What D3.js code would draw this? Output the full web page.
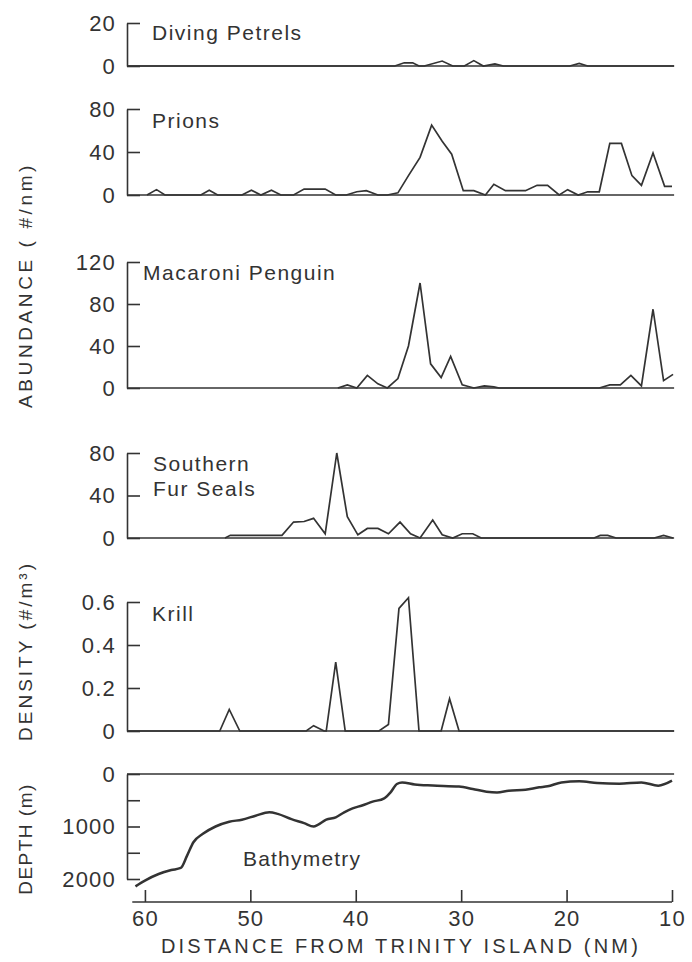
<!DOCTYPE html>
<html>
<head>
<meta charset="utf-8">
<script src="https://cdn.jsdelivr.net/npm/d3@7"></script>
<style>
    body { margin: 0; background: #fff; }
    svg text { font-family: "Liberation Sans", Arial, sans-serif; fill: #333; }
</style>
</head>
<body>
<svg id="chart" width="692" height="962"></svg>
<script>
// distance (nm) and value pairs
const petrelDist = [61.7, 36.3, 35.4, 34.6, 34.0, 33.5, 31.8, 30.8, 29.7, 28.8, 27.9, 26.8, 26.0, 19.7, 18.8, 18.0, 9.8];
const petrelVals = [0, 0, 1.5, 1.5, 0, 0, 2.3, 0, 0, 2.5, 0, 1, 0, 0, 1.2, 0, 0];

const prionDist = [59.8, 58.9, 58.1, 54.7, 53.9, 53.1, 50.8, 49.9, 49.0, 48.0, 47.1, 45.9, 44.9, 42.9, 41.9, 40.9, 39.9, 39.0, 37.9, 37.0, 36.0, 35.0, 33.9, 32.8, 31.8, 30.9, 29.8, 28.8, 27.7, 26.9, 25.8, 23.9, 22.8, 21.8, 20.7, 19.9, 18.9, 18.0, 16.9, 15.9, 14.8, 13.8, 12.9, 11.8, 10.7, 10.0];
const prionVals = [0, 5, 0, 0, 4.5, 0, 0, 4.5, 0, 4.5, 0, 0, 5.5, 5.5, 0, 0, 3, 4, 0, 0, 2, 18, 35, 65, 50, 38, 4, 4, 0, 10, 4, 4, 9, 9, 0, 5, 0, 3, 3, 48, 48, 18, 9, 39, 8, 8];

const penguinDist = [41.7, 40.8, 39.9, 38.9, 37.9, 37.0, 36.0, 35.0, 33.9, 32.9, 31.9, 31.0, 29.9, 28.8, 27.8, 26.9, 26.4, 16.9, 15.9, 14.9, 13.9, 12.9, 11.8, 10.8, 9.9];
const penguinVals = [0, 3, 0, 12, 4, 0, 9, 40, 100, 23, 10, 30, 3, 0, 2, 1, 0, 0, 3, 3, 12, 2, 75, 7, 13];

const sealDist = [52.4, 51.9, 47.0, 45.9, 44.9, 44.0, 42.9, 41.8, 40.8, 39.8, 38.9, 37.9, 36.9, 35.8, 34.8, 33.9, 32.7, 31.8, 30.8, 29.9, 28.9, 28.1, 17.4, 16.8, 16.1, 15.3, 11.7, 10.8, 9.9];
const sealVals = [0, 2.5, 2.5, 15, 15.5, 18.5, 4, 80, 20, 3, 9, 9, 4, 15, 4, 0, 17, 3, 0, 4, 4, 0, 0, 2.5, 2.5, 0, 0, 2.5, 0];

const krillDist = [61.7, 52.9, 52.0, 51.0, 44.7, 44.0, 43.0, 42.8, 41.9, 41.0, 37.8, 36.9, 35.9, 35.0, 34.0, 31.9, 31.1, 30.2, 9.8];
const krillVals = [0, 0, 0.1, 0, 0, 0.025, 0, 0, 0.32, 0, 0, 0.03, 0.57, 0.62, 0, 0, 0.15, 0, 0];

const bathyDist = [60.9, 60.0, 58.7, 57.5, 56.6, 56.0, 55.4, 54.5, 53.3, 52.0, 50.8, 49.5, 48.2, 47.4, 46.1, 44.9, 44.0, 43.6, 42.8, 41.9, 41.1, 40.3, 39.4, 38.4, 37.3, 36.7, 36.1, 35.6, 34.4, 32.7, 30.2, 28.9, 27.6, 26.6, 25.5, 23.9, 22.6, 21.8, 20.5, 18.8, 17.1, 15.0, 12.9, 11.3, 10.0];
const bathyDepth = [2140, 2030, 1905, 1830, 1790, 1555, 1300, 1140, 1000, 910, 870, 795, 730, 760, 860, 935, 1000, 970, 870, 825, 730, 655, 600, 527, 463, 350, 190, 160, 200, 220, 240, 285, 336, 350, 318, 300, 254, 235, 160, 140, 170, 184, 160, 222, 127];

const xTicks = [60, 50, 40, 30, 20, 10];

const svg = d3.select("#chart");
const ink = "#333";

const x = d3.scaleLinear().domain([61.7, 10]).range([127, 672]);

const panels = [
    { name: ["Diving Petrels"], dist: petrelDist, vals: petrelVals, domain: [0, 20], range: [66, 23], ticks: [0, 20], lx: 152, ly: 40 },
    { name: ["Prions"], dist: prionDist, vals: prionVals, domain: [0, 80], range: [195, 109], ticks: [0, 40, 80], lx: 152, ly: 128 },
    { name: ["Macaroni Penguin"], dist: penguinDist, vals: penguinVals, domain: [0, 120], range: [388, 262], ticks: [0, 40, 80, 120], lx: 143, ly: 280 },
    { name: ["Southern", "Fur Seals"], dist: sealDist, vals: sealVals, domain: [0, 80], range: [538, 453], ticks: [0, 40, 80], lx: 153, ly: 471 },
    { name: ["Krill"], dist: krillDist, vals: krillVals, domain: [0, 0.6], range: [731, 602], ticks: [0, 0.2, 0.4, 0.6], lx: 152, ly: 621 }
];

function styleAxis(g) {
    g.select(".domain").attr("stroke", ink).attr("stroke-width", 1.6);
    g.selectAll(".tick line").attr("stroke", ink).attr("stroke-width", 1.6);
    g.selectAll(".tick text")
        .attr("fill", ink)
        .attr("font-size", 22)
        .attr("letter-spacing", 1.2);
}

panels.forEach(p => {
    const y = d3.scaleLinear().domain(p.domain).range(p.range);

    // left axis, ticks pointing inward
    svg.append("g")
        .attr("transform", `translate(${x.range()[0]},0)`)
        .call(d3.axisLeft(y).tickValues(p.ticks).tickSizeInner(-13).tickSizeOuter(0).tickPadding(11)
            .tickFormat(d => d === 0 ? "0" : (p.domain[1] < 1 ? d3.format(".1f")(d) : d)))
        .call(styleAxis);

    // zero baseline across the panel
    svg.append("line")
        .attr("x1", x(61.7)).attr("x2", x(9.8))
        .attr("y1", y(0)).attr("y2", y(0))
        .attr("stroke", ink).attr("stroke-width", 1.6);

    const pts = p.dist.map((d, i) => [d, p.vals[i]]);
    svg.append("path")
        .datum(pts)
        .attr("fill", "none")
        .attr("stroke", ink)
        .attr("stroke-width", 1.7)
        .attr("d", d3.line().x(d => x(d[0])).y(d => y(d[1])));

    const label = svg.append("text")
        .attr("x", p.lx).attr("y", p.ly)
        .attr("font-size", 21)
        .attr("letter-spacing", 1.5);
    p.name.forEach((t, i) => {
        label.append("tspan").attr("x", p.lx).attr("dy", i === 0 ? 0 : 25).text(t);
    });
});

// bathymetry panel
const yb = d3.scaleLinear().domain([0, 2000]).range([774, 879]);

svg.append("g")
    .attr("transform", `translate(${x.range()[0]},0)`)
    .call(d3.axisLeft(yb).tickValues([0, 500, 1000, 1500, 2000]).tickSizeInner(-13).tickSizeOuter(0).tickPadding(11)
        .tickFormat(d => d % 1000 === 0 ? d : ""))
    .call(styleAxis);

svg.append("line")
    .attr("x1", x(61.7)).attr("x2", x(9.8))
    .attr("y1", yb(0)).attr("y2", yb(0))
    .attr("stroke", ink).attr("stroke-width", 1.6);

svg.append("path")
    .datum(bathyDist.map((d, i) => [d, bathyDepth[i]]))
    .attr("fill", "none")
    .attr("stroke", ink)
    .attr("stroke-width", 2.5)
    .attr("d", d3.line().curve(d3.curveMonotoneX).x(d => x(d[0])).y(d => yb(d[1])));

svg.append("text")
    .attr("x", 243).attr("y", 866)
    .attr("font-size", 21)
    .attr("letter-spacing", 1.2)
    .text("Bathymetry");

// distance axis
const xAxisG = svg.append("g")
    .attr("transform", "translate(0,902)")
    .call(d3.axisBottom(x).tickValues(xTicks).tickSizeInner(-12).tickSizeOuter(0).tickPadding(8));
xAxisG.select(".domain").remove();
xAxisG.call(styleAxis);
xAxisG.append("line")
    .attr("x1", x(61.2)).attr("x2", x(10))
    .attr("stroke", ink).attr("stroke-width", 1.6);

svg.append("text")
    .attr("x", 401).attr("y", 953)
    .attr("text-anchor", "middle")
    .attr("font-size", 20)
    .attr("letter-spacing", 3.2)
    .text("DISTANCE FROM TRINITY ISLAND (NM)");

// rotated axis titles
const yTitles = [
    { text: "ABUNDANCE ( #/nm)", cy: 285, ls: 3.6 },
    { text: "DENSITY (#/m³)", cy: 651, ls: 3 },
    { text: "DEPTH (m)", cy: 839, ls: 1.5 }
];
yTitles.forEach(t => {
    svg.append("text")
        .attr("transform", `translate(32,${t.cy}) rotate(-90)`)
        .attr("text-anchor", "middle")
        .attr("font-size", 19)
        .attr("letter-spacing", t.ls)
        .text(t.text);
});
</script>
</body>
</html>
